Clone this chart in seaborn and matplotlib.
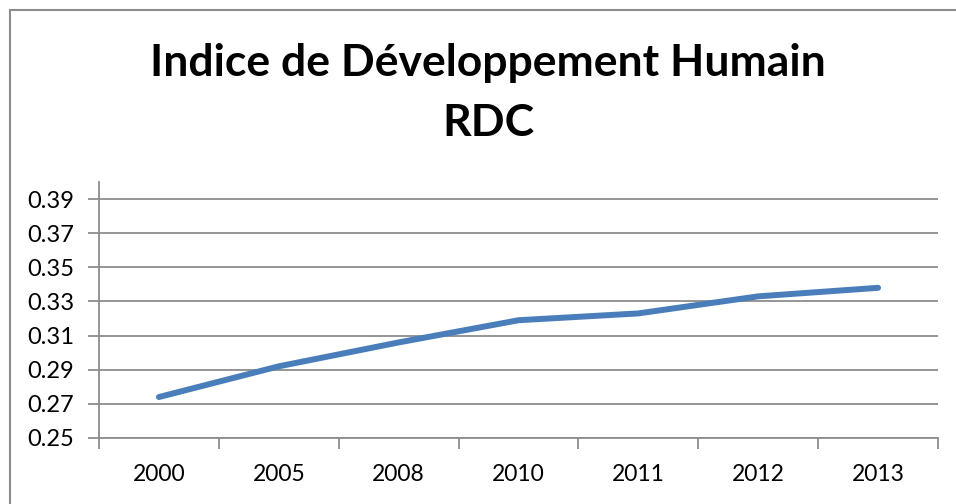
import matplotlib
matplotlib.use("Agg")
import matplotlib.pyplot as plt
import seaborn as sns
import pandas as pd
from matplotlib.patches import Rectangle
from matplotlib.ticker import FixedLocator, NullFormatter, FixedFormatter

years = ["2000", "2005", "2008", "2010", "2011", "2012", "2013"]
idh = [0.274, 0.292, 0.306, 0.319, 0.323, 0.333, 0.338]
yticks = [0.25, 0.27, 0.29, 0.31, 0.33, 0.35, 0.37, 0.39]
title = "Indice de Développement Humain\nRDC"

sns.set_theme(style="white")
plt.rcParams["font.family"] = ["Lato", "DejaVu Sans"]

W, H = 956, 504
fig = plt.figure(figsize=(W / 100, H / 100), dpi=100)
fig.patch.set_facecolor("white")

# outer chart frame
fig.patches.append(Rectangle((10 / W, -0.1), 1.2, (H - 10) / H + 0.1, transform=fig.transFigure,
                             fill=False, edgecolor="#8c8c8c", linewidth=1.5))

left, right, top, bottom = 99, 938, 182, 438
ax = fig.add_axes([left / W, (H - bottom) / H, (right - left) / W, (bottom - top) / H])

df = pd.DataFrame({"year": years, "idh": idh})
df["pos"] = range(len(years))
sns.lineplot(data=df, x="pos", y="idh", ax=ax, color="#4a7ebb", linewidth=4.3,
             solid_capstyle="round", solid_joinstyle="round")

ax.set_xlim(-0.5, len(years) - 0.5)
ax.set_ylim(0.25, 0.40)
ax.set_yticks(yticks)
ax.set_yticklabels([f"{v:.2f}" for v in yticks])
ax.yaxis.grid(True, color="#8c8c8c", linewidth=1.3)
ax.xaxis.grid(False)

ax.xaxis.set_major_locator(FixedLocator([i - 0.5 for i in range(len(years) + 1)]))
ax.xaxis.set_major_formatter(NullFormatter())
ax.xaxis.set_minor_locator(FixedLocator(list(range(len(years)))))
ax.xaxis.set_minor_formatter(FixedFormatter(years))
ax.tick_params(axis="x", which="major", length=8, width=1.3, color="#8c8c8c", direction="out", bottom=True)
ax.tick_params(axis="x", which="minor", length=0, pad=19, labelsize=16.5, labelcolor="black")
ax.tick_params(axis="y", length=8, width=1.3, color="#8c8c8c", direction="out", left=True,
               labelsize=17, labelcolor="black", pad=10)
ax.set_xlabel("")
ax.set_ylabel("")

for s in ["top", "right"]:
    ax.spines[s].set_visible(False)
for s in ["left", "bottom"]:
    ax.spines[s].set_color("#8c8c8c")
    ax.spines[s].set_linewidth(1.3)

fig.text(488 / W, 1 - 93 / H, title, ha="center", va="center", fontsize=32,
         fontweight="bold", color="black", linespacing=1.6)

fig.savefig("out.png", dpi=100, facecolor="white")
